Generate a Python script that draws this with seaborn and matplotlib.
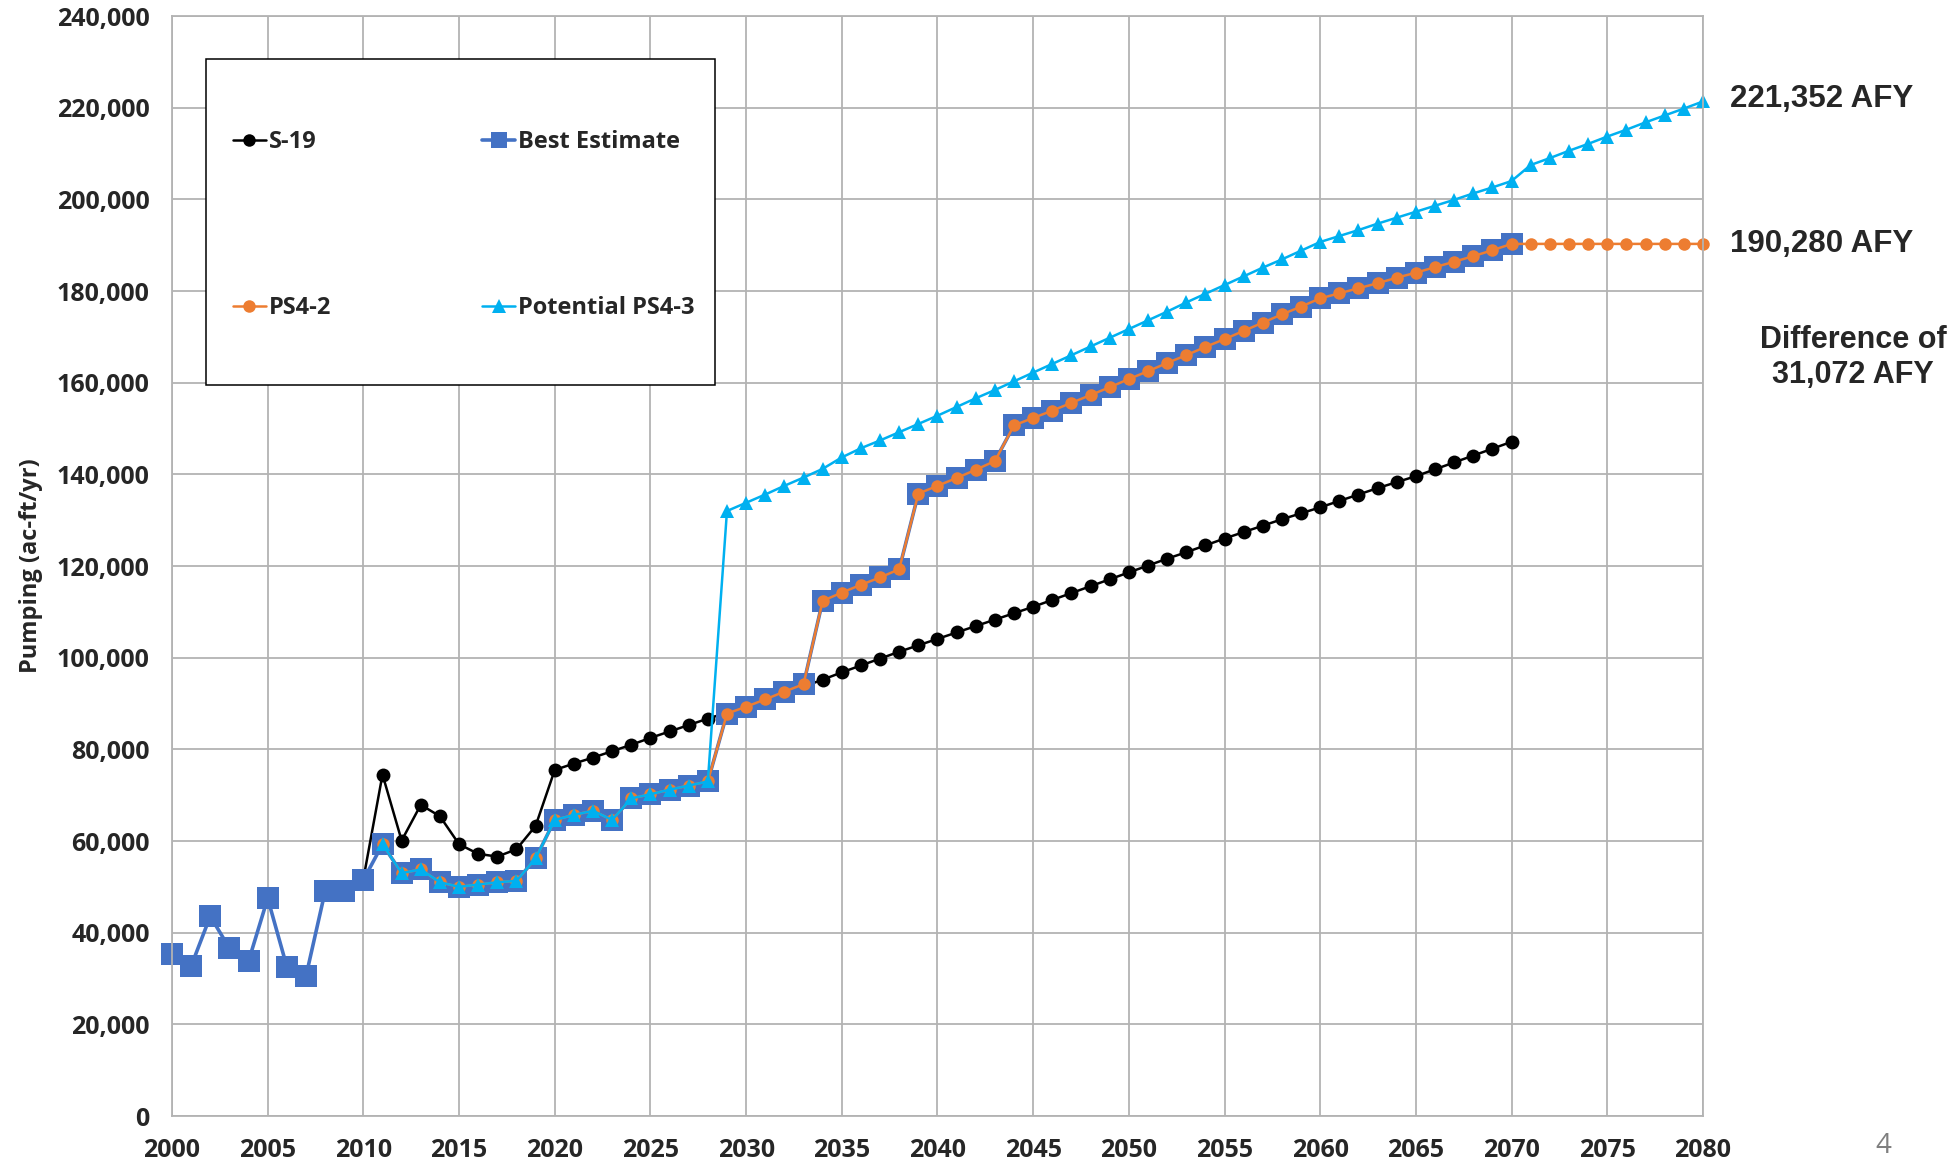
import pandas as pd
import seaborn as sns
import matplotlib.pyplot as plt
from matplotlib.patches import Rectangle
from matplotlib.ticker import FuncFormatter

# Data (pumping, ac-ft/yr)
best_years = list(range(2000, 2071))
best_estimate = [
    35300, 32700, 43600, 36600, 33800, 47500, 32600, 30500, 49000, 49000,
    51500, 59300, 53000, 53800, 51000, 50000, 50500, 51000, 51300, 56200,
    64600, 65700, 66600, 64600, 69300, 70200, 71200, 72100, 73000, 87800,
    89300, 90900, 92600, 94200, 112400, 114200, 115900, 117500, 119300, 135800,
    137500, 139200, 141000, 142900, 150700, 152300, 153900, 155600, 157300, 159000,
    160800, 162500, 164300, 166000, 167800, 169500, 171300, 173100, 174900, 176600,
    178400, 179500, 180600, 181700, 182900, 184000, 185200, 186400, 187600, 188900,
    190280,
]

s19_years = list(range(2010, 2071))
s19 = [
    51700, 74500, 60100, 67900, 65400, 59300, 57200, 56600, 58200, 63300,
    75500, 76900, 78200, 79600, 81000, 82500, 83900, 85300, 86700, 88000,
    89400, 90800, 92200, 93700, 95200, 96800, 98300, 99800, 101300, 102700,
    104100, 105500, 106900, 108300, 109700, 111100, 112600, 114100, 115600, 117100,
    118600, 120100, 121600, 123000, 124500, 126000, 127400, 128800, 130200, 131500,
    132800, 134200, 135600, 137000, 138300, 139600, 141100, 142600, 144100, 145600,
    147100,
]

ps42_years = list(range(2011, 2081))
ps42 = best_estimate[11:] + [
    190280, 190280, 190280, 190280, 190280, 190280, 190280, 190280, 190280, 190280,
]

ps43_years = list(range(2011, 2081))
ps43 = best_estimate[11:29] + [
    132000, 133800, 135600, 137500, 139300, 141200, 143700, 145700, 147400, 149200,
    151000, 152800, 154700, 156600, 158400, 160300, 162200, 164100, 166000, 167900,
    169800, 171700, 173600, 175500, 177500, 179400, 181300, 183200, 185100, 186900,
    188800, 190700, 192000, 193300, 194700, 196000, 197300, 198600, 199900, 201300,
    202600, 204000, 207500, 209000, 210600, 212100, 213700, 215200, 216800, 218300,
    219800, 221352,
]

x_ticks = list(range(2000, 2081, 5))
y_ticks = list(range(0, 240001, 20000))

sns.set_style("whitegrid", {"grid.color": "#b3b3b3", "axes.edgecolor": "#b3b3b3"})
plt.rcParams["font.family"] = ["Open Sans", "DejaVu Sans"]

fig, ax = plt.subplots(figsize=(19.59, 11.68), dpi=100)
fig.subplots_adjust(left=0.0878, right=0.8693, top=0.9863, bottom=0.0445)

sns.lineplot(x=s19_years, y=s19, ax=ax, color="black", lw=1.8, marker="o",
             markersize=10, markeredgewidth=0, label="S-19", clip_on=False)
sns.lineplot(x=best_years, y=best_estimate, ax=ax, color="#4472C4", lw=2.6, marker="s",
             markersize=16.5, markeredgewidth=0, label="Best Estimate", clip_on=False)
sns.lineplot(x=ps42_years, y=ps42, ax=ax, color="#ED7D31", lw=1.8, marker="o",
             markersize=9, markeredgewidth=0, label="PS4-2", clip_on=False)
sns.lineplot(x=ps43_years, y=ps43, ax=ax, color="#00B0F0", lw=1.8, marker="^",
             markersize=10.5, markeredgewidth=0, label="Potential PS4-3", clip_on=False)

ax.set_xlim(2000, 2080)
ax.set_ylim(0, 240000)
ax.set_xticks(x_ticks)
ax.set_yticks(y_ticks)
ax.yaxis.set_major_formatter(FuncFormatter(lambda v, p: f"{int(v):,}"))
ax.grid(True, color="#b3b3b3", lw=1.3)
for sp in ax.spines.values():
    sp.set_color("#b3b3b3")
    sp.set_linewidth(1.3)
ax.tick_params(axis="both", length=0, pad=16, labelsize=18)
for lab in ax.get_xticklabels() + ax.get_yticklabels():
    lab.set_fontweight("bold")

ax.set_xlabel("")
ax.set_ylabel("Pumping (ac-ft/yr)", fontsize=17, fontweight="bold")
ax.yaxis.set_label_coords(-0.084, 0.5)

# legend
handles, labels = ax.get_legend_handles_labels()
order = [labels.index(n) for n in ["S-19", "PS4-2", "Best Estimate", "Potential PS4-3"]]
leg = ax.legend([handles[i] for i in order], [labels[i] for i in order],
                ncol=2, loc="upper left", bbox_to_anchor=(0.032, 0.907),
                frameon=False, borderpad=0, labelspacing=6.0, columnspacing=6.4,
                handlelength=1.4, handletextpad=0.12,
                prop={"family": "Open Sans", "weight": "bold", "size": 17})
for h, ms in zip(leg.legend_handles, [9, 9, 12, 10]):
    h.set_markersize(ms)
ax.add_patch(Rectangle((0.022, 0.665), 0.333, 0.296, transform=ax.transAxes,
                       fill=True, facecolor="white", edgecolor="black", lw=1.1, zorder=5))
leg.set_zorder(6)

# annotations
fig.text(0.883, 0.915, "221,352 AFY", fontsize=22.5, fontweight="bold",
         family="Liberation Sans", va="center", ha="left")
fig.text(0.883, 0.7915, "190,280 AFY", fontsize=22.5, fontweight="bold",
         family="Liberation Sans", va="center", ha="left")
fig.text(0.946, 0.694, "Difference of\n31,072 AFY", fontsize=22, fontweight="bold",
         family="Liberation Sans", va="center", ha="center", multialignment="center")
fig.text(0.9615, 0.019, "4", fontsize=20, color="#7f7f7f", va="center", ha="center")

plt.savefig("out.png", dpi=100)
plt.close()
